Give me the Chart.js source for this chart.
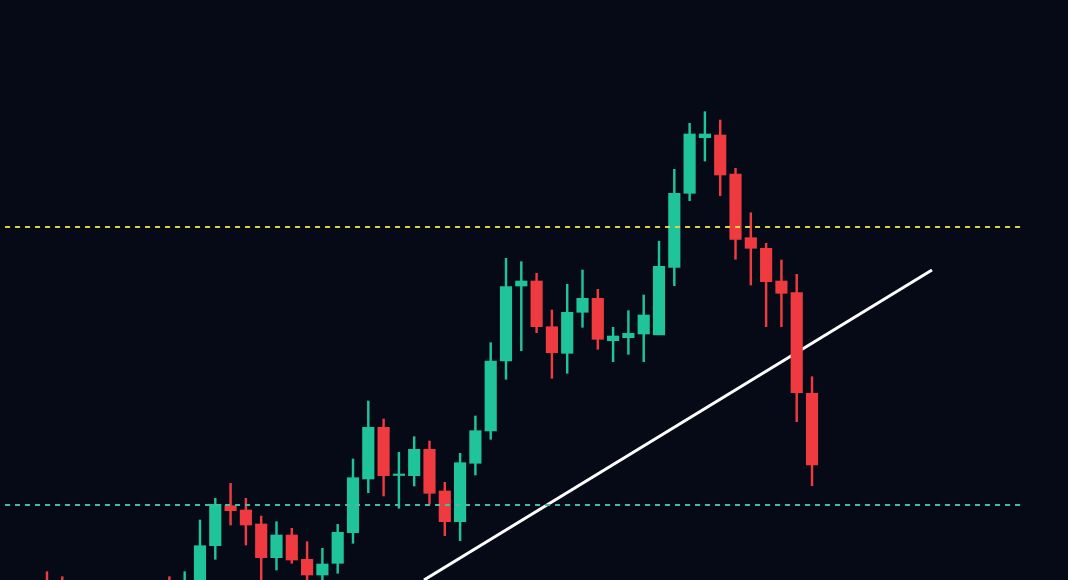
<!DOCTYPE html>
<html>
<head>
<meta charset="utf-8">
<script src="https://cdn.jsdelivr.net/npm/chart.js@4.4.1/dist/chart.umd.min.js"></script>
<style>
  html, body { margin: 0; padding: 0; background: #060a16; }
  #wrap { width: 1068px; height: 580px; position: relative; }
</style>
</head>
<body>
<div id="wrap"><canvas id="c"></canvas></div>
<script>
// Candle slot (time index) and OHLC prices
const slots = [0, 1, 8, 9,
  10, 11, 12, 13, 14, 15, 16, 17, 18, 19,
  20, 21, 22, 23, 24, 25, 26, 27, 28, 29,
  30, 31, 32, 33, 34, 35, 36, 37, 38, 39,
  40, 41, 42, 43, 44, 45, 46, 47, 48, 49, 50];
const openP = [39.5, 39.3, 39.4, 37.5,
  38.0, 43.43, 47.43, 47.0, 45.6, 42.23, 44.5, 42.07, 40.5, 41.67,
  44.73, 50.1, 55.27, 50.45, 50.43, 53.07, 48.9, 45.83, 51.67, 54.9,
  61.9, 69.4, 69.9, 65.33, 62.67, 66.77, 68.17, 63.93, 64.23, 64.6,
  64.52, 71.27, 78.67, 84.23, 84.5, 80.6, 74.23, 73.17, 69.9, 68.73, 58.67];
const highP = [40.83, 40.33, 40.33, 40.83,
  46.0, 48.17, 49.67, 48.17, 46.4, 45.83, 45.17, 43.83, 43.17, 45.57,
  52.1, 57.9, 56.1, 52.77, 54.33, 53.9, 49.77, 52.67, 56.4, 63.73,
  72.17, 71.83, 70.67, 67.0, 69.57, 71.0, 69.07, 65.27, 66.93, 68.5,
  73.88, 81.07, 85.67, 86.83, 86.0, 81.17, 76.73, 73.67, 72.0, 70.57, 60.33];
const lowP = [36.5, 36.8, 36.9, 36.5,
  37.0, 42.07, 45.5, 43.5, 39.5, 41.0, 41.67, 39.0, 39.5, 40.67,
  43.67, 48.73, 48.4, 47.17, 49.4, 47.6, 44.43, 43.93, 50.5, 54.07,
  60.07, 62.93, 64.73, 60.17, 60.67, 65.27, 63.07, 61.83, 62.57, 61.83,
  65.9, 69.43, 77.93, 81.9, 78.43, 72.07, 69.5, 65.33, 65.33, 55.83, 49.43];
const closeP = [37.5, 37.3, 37.4, 39.4,
  43.43, 47.57, 46.93, 45.5, 42.23, 44.5, 42.0, 40.5, 41.6, 44.77,
  50.23, 55.27, 50.43, 50.6, 53.07, 48.67, 45.83, 51.73, 54.93, 61.9,
  69.33, 69.9, 65.33, 62.73, 66.77, 68.17, 64.07, 64.4, 64.67, 66.5,
  71.37, 78.67, 84.6, 84.6, 80.5, 74.07, 73.17, 69.83, 68.67, 58.73, 51.5];

// Horizontal levels and trend line
const resistanceLevel = 75.3;
const supportLevel = 47.5;
const levelSpan = [-2.74, 63.73];
const trendX = [24.64, 57.84];
const trendY = [40.0, 71.0];

const UP = '#1fc49a';
const DOWN = '#ef3a40';
const colors = openP.map((o, i) => closeP[i] >= o ? UP : DOWN);

const bodies = slots.map((s, i) => ({ x: s, y: [openP[i], closeP[i]] }));
const wicks = slots.map((s, i) => ({ x: s, y: [lowP[i], highP[i]] }));

new Chart(document.getElementById('c'), {
  type: 'bar',
  data: {
    datasets: [
      { type: 'line', data: levelSpan.map(x => ({ x, y: resistanceLevel })),
        borderColor: '#d9cf4f', borderWidth: 1.8, borderDash: [5, 5],
        pointRadius: 0, order: 0 },
      { type: 'line', data: levelSpan.map(x => ({ x, y: supportLevel })),
        borderColor: '#46bba9', borderWidth: 1.8, borderDash: [5, 5],
        pointRadius: 0, order: 0 },
      { data: bodies, backgroundColor: colors, borderWidth: 0,
        barThickness: 11.5, grouped: false, order: 1 },
      { data: wicks, backgroundColor: colors, borderWidth: 0,
        barThickness: 1.8, grouped: false, order: 2 },
      { type: 'line', data: trendX.map((x, i) => ({ x, y: trendY[i] })),
        borderColor: '#ffffff', borderWidth: 3, pointRadius: 0, order: 3 }
    ]
  },
  options: {
    responsive: true,
    maintainAspectRatio: false,
    animation: false,
    layout: { padding: 0 },
    plugins: { legend: { display: false }, tooltip: { enabled: false } },
    scales: {
      x: { type: 'linear', min: -3.07, max: 66.73, offset: false, display: false },
      y: { type: 'linear', min: 40, max: 98, display: false }
    }
  }
});
</script>
</body>
</html>
